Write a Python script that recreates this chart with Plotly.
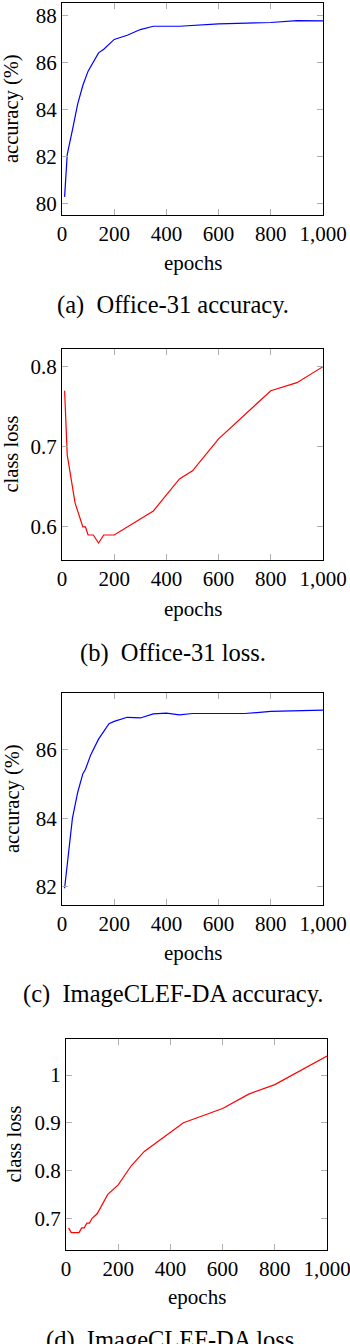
import plotly.graph_objects as go

# ---- data ----
acc31_epochs = [10, 20, 40, 60, 80, 100, 140, 160, 200, 250, 300, 350, 450, 600, 800, 900, 1000]
acc31_values = [80.3, 82.1, 83.15, 84.25, 85.05, 85.65, 86.43, 86.58, 87.0, 87.18, 87.42, 87.56, 87.56, 87.66, 87.72, 87.8, 87.79]

loss31_epochs = [10, 20, 50, 80, 90, 100, 120, 140, 160, 200, 350, 450, 500, 600, 800, 900, 1000]
loss31_values = [0.77, 0.69, 0.63, 0.60, 0.60, 0.59, 0.59, 0.58, 0.59, 0.59, 0.62, 0.66, 0.67, 0.71, 0.77, 0.78, 0.80]

accclef_epochs = [10, 40, 60, 80, 90, 110, 140, 180, 200, 250, 300, 350, 400, 450, 500, 700, 800, 900, 1000]
accclef_values = [81.95, 84.0, 84.75, 85.3, 85.43, 85.85, 86.31, 86.76, 86.83, 86.95, 86.93, 87.05, 87.07, 87.02, 87.06, 87.06, 87.12, 87.15, 87.16]

lossclef_epochs = [10, 20, 50, 60, 70, 80, 90, 100, 120, 160, 200, 250, 300, 450, 600, 700, 800, 1000]
lossclef_values = [0.68, 0.67, 0.67, 0.68, 0.68, 0.69, 0.69, 0.70, 0.71, 0.75, 0.77, 0.81, 0.84, 0.90, 0.93, 0.96, 0.98, 1.04]

x_ticks = [0, 200, 400, 600, 800, 1000]
x_ticktext = ["0", "200", "400", "600", "800", "1,000"]
captions = ["(a)\u2002Office-31 accuracy.", "(b)\u2002Office-31 loss.",
            "(c)\u2002ImageCLEF-DA accuracy.", "(d)\u2002ImageCLEF-DA loss."]
ylabels = ["accuracy (%)", "class loss", "accuracy (%)", "class loss"]

W, H = 350, 1344
FONT = "Liberation Serif, Times New Roman, DejaVu Serif, serif"

def px(x):
    return x / W

def py(y):
    return 1 - y / H

panels = [
    dict(x=acc31_epochs, y=acc31_values, color="#0000ff", xl=62, xr=323, yt=3, yb=215,
         yr=[79.53, 88.55], yt_vals=[80, 82, 84, 86, 88], yt_text=["80", "82", "84", "86", "88"],
         ylab_x=12, ep_y=263, cap_y=305),
    dict(x=loss31_epochs, y=loss31_values, color="#ff0000", xl=62, xr=323, yt=349, yb=560,
         yr=[0.5588, 0.822], yt_vals=[0.6, 0.7, 0.8], yt_text=["0.6", "0.7", "0.8"],
         ylab_x=11, ep_y=609, cap_y=653),
    dict(x=accclef_epochs, y=accclef_values, color="#0000ff", xl=62, xr=323, yt=693, yb=905,
         yr=[81.46, 87.66], yt_vals=[82, 84, 86], yt_text=["82", "84", "86"],
         ylab_x=12, ep_y=953, cap_y=994),
    dict(x=lossclef_epochs, y=lossclef_values, color="#ff0000", xl=66, xr=327, yt=1039, yb=1250,
         yr=[0.6336, 1.0755], yt_vals=[0.7, 0.8, 0.9, 1.0], yt_text=["0.7", "0.8", "0.9", "1"],
         ylab_x=13, ep_y=1297, cap_y=1340),
]

fig = go.Figure()
annotations = []
for i, p in enumerate(panels):
    n = "" if i == 0 else str(i + 1)
    fig.add_trace(go.Scatter(x=p["x"], y=p["y"], mode="lines",
                             line=dict(color=p["color"], width=1.2),
                             xaxis="x" + n, yaxis="y" + n, showlegend=False))
    axis_common = dict(showline=True, linecolor="black", linewidth=1, mirror="ticks",
                       ticks="inside", ticklen=6, tickcolor="#b0b0b0", tickwidth=1,
                       showgrid=False, zeroline=False, automargin=False,
                       ticklabeloverflow="allow",
                       tickfont=dict(family=FONT, size=21, color="black"))
    fig.update_layout({
        "xaxis" + n: dict(domain=[px(p["xl"]), px(p["xr"])], range=[0, 1000],
                          tickvals=x_ticks, ticktext=x_ticktext,
                          anchor="y" + n, **axis_common),
        "yaxis" + n: dict(domain=[py(p["yb"]), py(p["yt"])], range=p["yr"],
                          tickvals=p["yt_vals"], ticktext=p["yt_text"],
                          anchor="x" + n, **axis_common),
    })
    cx = (p["xl"] + p["xr"]) / 2
    cy = (p["yt"] + p["yb"]) / 2
    annotations.append(dict(text=ylabels[i], x=px(p["ylab_x"]), y=py(cy), xref="paper", yref="paper",
                            textangle=-90, showarrow=False, xanchor="center", yanchor="middle",
                            font=dict(family=FONT, size=20.5, color="black")))
    annotations.append(dict(text="epochs", x=px(cx), y=py(p["ep_y"]), xref="paper", yref="paper",
                            showarrow=False, xanchor="center", yanchor="middle",
                            font=dict(family=FONT, size=21, color="black")))
    annotations.append(dict(text=captions[i], x=px(173), y=py(p["cap_y"]), xref="paper", yref="paper",
                            showarrow=False, xanchor="center", yanchor="middle",
                            font=dict(family=FONT, size=24.5, color="black")))

fig.update_layout(width=W, height=H, autosize=False,
                  margin=dict(l=0, r=0, t=0, b=0, pad=0, autoexpand=False),
                  plot_bgcolor="white", paper_bgcolor="white", annotations=annotations)

fig.write_html("out.html",
               config={"responsive": False, "displayModeBar": False, "staticPlot": True},
               post_script="document.body.style.margin='0';document.body.style.overflow='hidden';")
